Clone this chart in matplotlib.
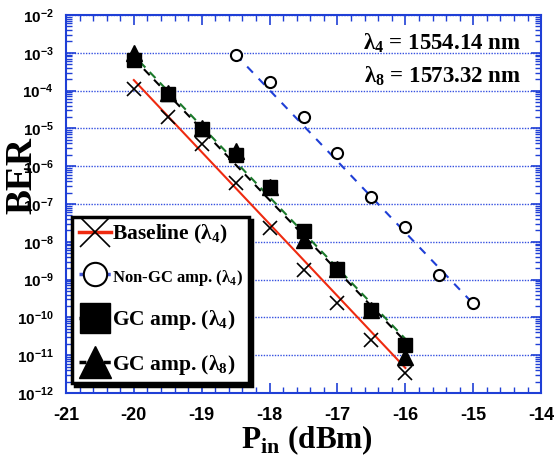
import matplotlib
matplotlib.use("Agg")
import matplotlib.pyplot as plt
from matplotlib.lines import Line2D
import matplotlib.ticker as mticker
import numpy as np

plt.rcParams['axes.unicode_minus'] = False
plt.rcParams['mathtext.fontset'] = 'custom'
plt.rcParams['mathtext.sf'] = 'Liberation Sans:bold'
plt.rcParams['mathtext.bf'] = 'Liberation Serif:bold'
plt.rcParams['mathtext.rm'] = 'Liberation Serif:bold'

# ---- data ----
baseline_x = [-20, -19.5, -19, -18.5, -18, -17.5, -17, -16.5, -16]
baseline_y = [1.1e-4, 2.0e-5, 3.9e-6, 3.6e-7, 2.3e-8, 1.8e-9, 2.4e-10, 2.5e-11, 3.4e-12]
baseline_fit_x = [-20, -16]
baseline_fit_y = [1.9e-4, 4.6e-12]

nongc_x = [-18.5, -18, -17.5, -17, -16.5, -16, -15.5, -15]
nongc_y = [8.7e-4, 1.66e-4, 2.0e-5, 2.2e-6, 1.55e-7, 2.5e-8, 1.3e-9, 2.4e-10]
nongc_fit_x = [-18.5, -15]
nongc_fit_y = [9.0e-4, 2.3e-10]

gc4_x = [-20, -19.5, -19, -18.5, -18, -17.5, -17, -16.5, -16]
gc4_y = [6.5e-4, 8.0e-5, 9.6e-6, 2.0e-6, 2.8e-7, 1.9e-8, 1.9e-9, 1.6e-10, 1.9e-11]
gc4_fit_x = [-20, -16]
gc4_fit_y = [7.0e-4, 2.3e-11]

gc8_x = [-20, -19.5, -19, -18.5, -18, -17.5, -17, -16.5, -16]
gc8_y = [1.0e-3, 8.5e-5, 1.0e-5, 2.5e-6, 2.8e-7, 1.1e-8, 1.9e-9, 1.6e-10, 9.0e-12]
gc8_fit_x = [-20, -16]
gc8_fit_y = [8.5e-4, 2.7e-11]

xticks = [-21, -20, -19, -18, -17, -16, -15, -14]
yticks_exp = [-2, -3, -4, -5, -6, -7, -8, -9, -10, -11, -12]

labels = ["Baseline (λ$_\\mathbf{4}$)", "Non-GC amp. (λ$_\\mathbf{4}$)",
          "GC amp. (λ$_\\mathbf{4}$)", "GC amp. (λ$_\\mathbf{8}$)"]

BLUE = '#1f3fd6'
GRIDBLUE = '#3550e0'
LEGBLUE = '#4458d8'
RED = '#ee2a10'
GREEN = '#1a7a2a'

fig = plt.figure(figsize=(5.59, 4.59), dpi=100)
ax = fig.add_axes([0.118, 0.1438, 0.850, 0.8235])
ax.set_yscale('log')
ax.set_xlim(-21, -14)
ax.set_ylim(1e-12, 1e-2)

# grid (horizontal only, at decades)
for e in yticks_exp:
    ax.axhline(10.0 ** e, color=GRIDBLUE, lw=1.0, ls=(0, (1, 1)), zorder=0.5)

# fit lines
ax.plot(baseline_fit_x, baseline_fit_y, color=RED, lw=1.5, zorder=2)
ax.plot(nongc_fit_x, nongc_fit_y, color=BLUE, lw=1.5, ls=(0, (4, 4)), zorder=2)
ax.plot(gc8_fit_x, gc8_fit_y, color=GREEN, lw=1.5, ls=(3, (4, 3)), zorder=2)
ax.plot(gc4_fit_x, gc4_fit_y, color='black', lw=1.5, ls=(0, (4, 3)), zorder=2.1)

# markers
ax.plot(baseline_x, baseline_y, ls='none', marker='x', ms=10, mew=1.2, color='black', zorder=3)
ax.plot(nongc_x, nongc_y, ls='none', marker='o', ms=8, mew=1.5, mfc='white', mec='black', zorder=3)
ax.plot(gc8_x, gc8_y, ls='none', marker='^', ms=11, color='black', zorder=3)
ax.plot(gc4_x, gc4_y, ls='none', marker='s', ms=10.5, color='black', zorder=3.1)

# spines and ticks
for s in ax.spines.values():
    s.set_color(BLUE)
    s.set_linewidth(1.5)
ax.set_xticks(xticks)
ax.set_xticklabels([str(v) for v in xticks], fontfamily='Liberation Sans', fontweight='bold', fontsize=13)
ax.xaxis.set_minor_locator(mticker.MultipleLocator(0.2))
ax.set_yticks([10.0 ** e for e in yticks_exp])
ax.set_yticklabels([r'$\mathsf{10^{%d}}$' % e for e in yticks_exp], fontsize=11)
ax.yaxis.set_minor_locator(mticker.LogLocator(base=10, subs=np.arange(2, 10), numticks=30))
ax.yaxis.set_minor_formatter(mticker.NullFormatter())
ax.tick_params(which='both', direction='in', color=BLUE, top=True, right=True)
ax.tick_params(which='major', length=7, width=1.2)
ax.tick_params(which='minor', length=4, width=1.0)
ax.tick_params(axis='x', which='major', pad=10)
ax.tick_params(axis='y', which='major', pad=9)

# axis labels
fig.text(0.040, 1 - 175 / 459, 'BER', rotation=90, ha='center', va='center',
         fontfamily='Liberation Serif', fontweight='bold', fontsize=27)
fig.text(307 / 559, 1 - 440 / 459, 'P$_\\mathbf{in}$ (dBm)', ha='center', va='center',
         fontfamily='Liberation Serif', fontweight='bold', fontsize=22.5)

# annotations
ax.text(0.958, 0.925, 'λ$_\\mathbf{4}$ = 1554.14 nm', transform=ax.transAxes, ha='right', va='center',
        fontfamily='Liberation Serif', fontweight='bold', fontsize=16.5)
ax.text(0.958, 0.838, 'λ$_\\mathbf{8}$ = 1573.32 nm', transform=ax.transAxes, ha='right', va='center',
        fontfamily='Liberation Serif', fontweight='bold', fontsize=16.5)

# legend
handles = [
    Line2D([], [], color=RED, lw=2.5, marker='x', ms=10, mew=1.2, mec='black'),
    Line2D([], [], color=LEGBLUE, lw=2.5, ls=(0, (2, 1.5)), marker='o', ms=8, mew=1.5, mfc='white', mec='black'),
    Line2D([], [], color='black', lw=2.5, ls=(0, (2, 1.5)), marker='s', ms=10.5, mec='black'),
    Line2D([], [], color='black', lw=2.5, ls=(0, (2, 1.5)), marker='^', ms=11, mec='black'),
]
leg = ax.legend(handles, labels, loc='lower left', bbox_to_anchor=(0.013, 0.026), borderaxespad=0,
                prop={'family': 'Liberation Serif', 'weight': 'bold', 'size': 15.5},
                markerscale=2.1, handlelength=1.5, handletextpad=0.05, labelspacing=0.95,
                borderpad=0.3, frameon=True, fancybox=False,
                shadow={'ox': 2, 'oy': -2, 'color': 'black', 'alpha': 1})
leg.get_frame().set_edgecolor('black')
leg.get_frame().set_linewidth(2.5)
leg.get_texts()[1].set_fontsize(12)
leg.set_zorder(5)

fig.savefig('out.png', dpi=100)
